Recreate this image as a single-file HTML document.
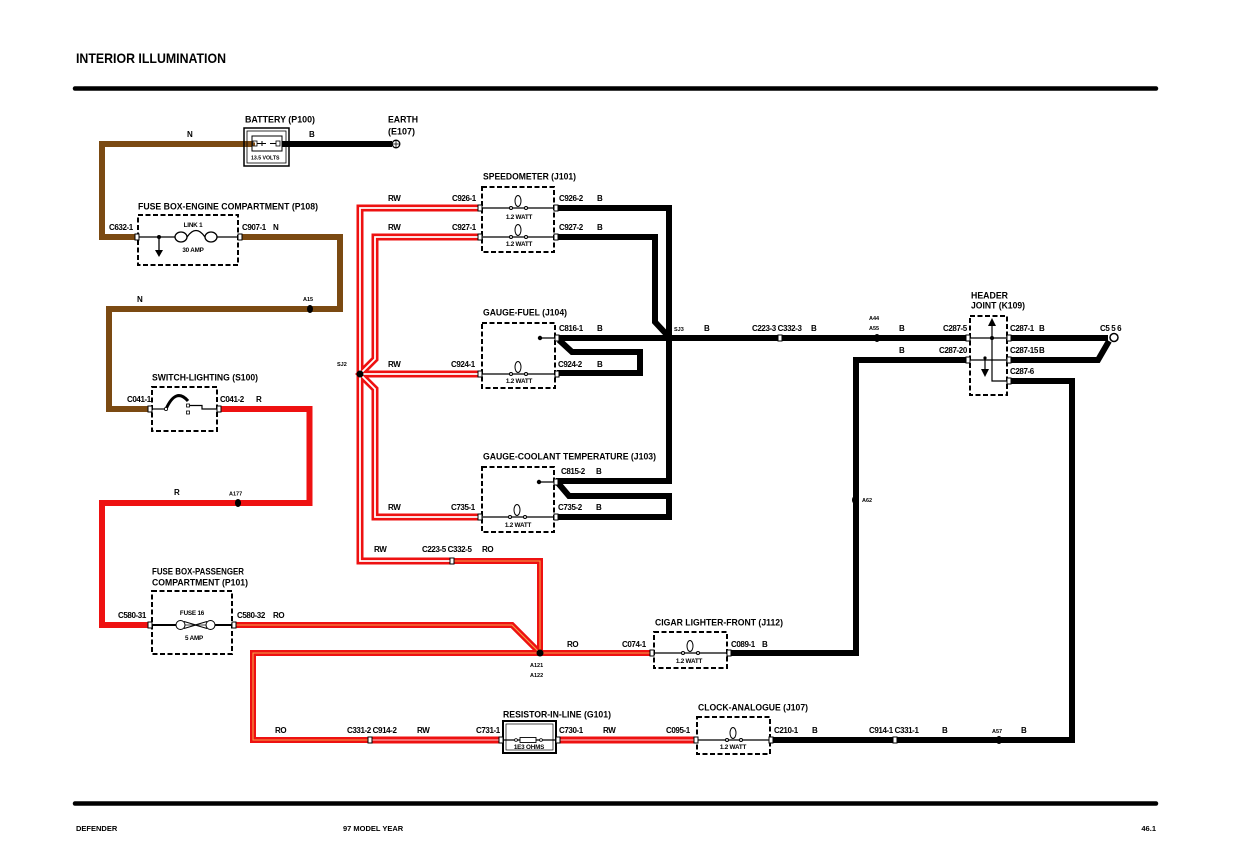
<!DOCTYPE html>
<html><head><meta charset="utf-8"><style>
html,body{margin:0;padding:0;background:#fff;}
svg{display:block;}
text{font-family:"Liberation Sans",Arial,sans-serif;font-weight:bold;fill:#000;}
.s{font-size:8px;letter-spacing:-0.4px;}
.t{font-size:9.5px;}
.xs{font-size:5.5px;}
.w{font-size:6.3px;letter-spacing:-0.2px;}
.f{font-size:7.5px;}
</style></head><body>
<svg width="1249" height="868" viewBox="0 0 1249 868" xmlns="http://www.w3.org/2000/svg">
<rect width="1249" height="868" fill="#fff"/>
<!-- header / footer -->
<text x="76" y="63" style="font-size:14px" textLength="150" lengthAdjust="spacingAndGlyphs">INTERIOR ILLUMINATION</text>
<line x1="75" y1="88.5" x2="1156" y2="88.5" stroke="#000" stroke-width="4.5" stroke-linecap="round"/>
<line x1="75" y1="803.5" x2="1156" y2="803.5" stroke="#000" stroke-width="4.5" stroke-linecap="round"/>
<text class="f" x="76" y="831">DEFENDER</text>
<text class="f" x="343" y="831">97 MODEL YEAR</text>
<text class="f" x="1156" y="831" text-anchor="end">46.1</text>

<!-- BROWN wires -->
<g fill="none" stroke="#7b4a12" stroke-width="6" stroke-linejoin="miter">
<path d="M255 144 H102 V237 H136"/>
<path d="M241 237 H340 V309 H109 V409 H149"/>
</g>
<!-- RED R wire -->
<g fill="none" stroke="#ee1111" stroke-width="6">
<path d="M220 409 H309.5 V503 H102 V625 H149"/>
</g>
<!-- RO wires -->
<g fill="none" stroke-linejoin="miter">
<path d="M452 561 H540 V653 M235 625 H512 L540 653 M651 653 H253 V740 H370" stroke="#ee1111" stroke-width="6"/>
<path d="M452 561 H540 V653 M235 625 H512 L540 653 M651 653 H253 V740 H370" stroke="#f7a24a" stroke-width="1.1"/>
</g>
<!-- RW wires -->
<g fill="none">
<g stroke="#ee1111" stroke-width="7">
<path d="M479 208 H360 V561 H452"/>
<path d="M479 237 H375 V359 L360 374 L375 389 V517 H479"/>
<path d="M360 374 H479"/>
<path d="M370 740 H502 M557 740 H696"/>
</g>
<g stroke="#fff" stroke-width="1.8">
<path d="M479 208 H360 V561 H452"/>
<path d="M479 237 H375 V359 L360 374 L375 389 V517 H479"/>
<path d="M360 374 H479"/>
</g>
<g stroke="#ffd0d0" stroke-width="1">
<path d="M370 740 H502 M557 740 H696"/>
</g>
</g>
<!-- BLACK wires -->
<g fill="none" stroke="#000" stroke-width="6" stroke-linejoin="miter">
<path d="M282 144 H392"/>
<path d="M556 208 H669 V481 H556"/>
<path d="M558 483 L569 496 H669 V517 H556"/>
<path d="M556 237 H655 V322 L669 337"/>
<path d="M557 338 H968"/>
<path d="M559 340 L572 352 H640 V373 H557"/>
<path d="M1009 338 H1108"/>
<path d="M1009 360 H1098 L1109 341"/>
<path d="M968 360 H856 V653 H728"/>
<path d="M1009 381 H1072 V740 H771"/>
</g>

<!-- dots -->
<g fill="#000">
<ellipse cx="310" cy="309" rx="3" ry="4"/>
<ellipse cx="238" cy="503" rx="3" ry="4"/>
<circle cx="360" cy="374" r="3.5"/>
<circle cx="669" cy="337.5" r="2.5"/>
<ellipse cx="877" cy="338" rx="3" ry="4"/>
<ellipse cx="855" cy="500" rx="3" ry="4"/>
<circle cx="540" cy="653" r="3.5"/>
<ellipse cx="999" cy="740" rx="3" ry="4"/>
</g>

<!-- BATTERY -->
<rect x="244" y="128" width="45" height="38" fill="none" stroke="#000" stroke-width="1.5"/>
<rect x="247" y="131" width="39" height="32" fill="none" stroke="#000" stroke-width="0.8"/>
<rect x="252" y="136" width="30" height="15" fill="#fff" stroke="#000" stroke-width="1"/>
<rect x="253" y="141" width="4" height="5" fill="#fff" stroke="#000" stroke-width="0.8"/>
<path d="M257 143.5 H266 M262 141 V146 M270 143.5 H276" stroke="#000" stroke-width="1"/>
<rect x="276" y="141" width="4" height="5" fill="#fff" stroke="#000" stroke-width="0.8"/>
<text x="251" y="159.5" style="font-size:5.2px">13.5 VOLTS</text>
<path d="M255 144 H253" stroke="#7b4a12" stroke-width="3"/>
<!-- earth -->
<circle cx="396" cy="144" r="3.8" fill="#fff" stroke="#000" stroke-width="1.3"/>
<path d="M392 144 H400 M396 140 V148" stroke="#000" stroke-width="0.8"/>

<!-- FUSE BOX ENGINE -->
<rect x="138" y="215" width="100" height="50" fill="none" stroke="#000" stroke-width="2" stroke-dasharray="5 2.5"/>
<path d="M138 237 H175 M217 237 H238" stroke="#000" stroke-width="1.3"/>
<circle cx="159" cy="237" r="2" fill="#000"/>
<path d="M159 237 V251" stroke="#000" stroke-width="1.3"/>
<path d="M155 250 H163 L159 257 Z" fill="#000"/>
<ellipse cx="181" cy="237" rx="6" ry="5" fill="none" stroke="#000" stroke-width="1.3"/>
<path d="M187 237 Q196 224 205 237" fill="none" stroke="#000" stroke-width="1.3"/>
<ellipse cx="211" cy="237" rx="6" ry="5" fill="none" stroke="#000" stroke-width="1.3"/>

<!-- SWITCH -->
<rect x="152" y="387" width="65" height="44" fill="none" stroke="#000" stroke-width="2" stroke-dasharray="5 2.5"/>
<path d="M152 409 H166" stroke="#000" stroke-width="1.2"/>
<path d="M166 409 Q176 387 188 401" fill="none" stroke="#000" stroke-width="3"/>
<circle cx="166" cy="409" r="1.6" fill="#fff" stroke="#000" stroke-width="0.8"/>
<rect x="186.5" y="404" width="3" height="3" fill="#fff" stroke="#000" stroke-width="0.8"/>
<rect x="186.5" y="411" width="3" height="3" fill="#fff" stroke="#000" stroke-width="0.8"/>
<path d="M189.5 405.5 H202 V409 H217" fill="none" stroke="#000" stroke-width="1.2"/>

<!-- FUSE BOX PASSENGER -->
<rect x="152" y="591" width="80" height="63" fill="none" stroke="#000" stroke-width="2" stroke-dasharray="5 2.5"/>
<path d="M152 625 H176 M215 625 H232" stroke="#000" stroke-width="2"/>
<path d="M185 625 H206" stroke="#000" stroke-width="0.8"/>
<circle cx="180.5" cy="625" r="4.5" fill="#fff" stroke="#000" stroke-width="1"/>
<path d="M184 621.5 L196 625 L184 628.5" fill="none" stroke="#000" stroke-width="1"/>
<circle cx="210.5" cy="625" r="4.5" fill="#fff" stroke="#000" stroke-width="1"/>
<path d="M207 621.5 L195 625 L207 628.5" fill="none" stroke="#000" stroke-width="1"/>

<!-- instrument boxes -->
<g fill="none" stroke="#000" stroke-width="2" stroke-dasharray="5 2.5">
<rect x="482" y="187" width="72" height="65"/>
<rect x="482" y="323" width="73" height="65"/>
<rect x="482" y="467" width="72" height="65"/>
<rect x="654" y="632" width="73" height="36"/>
<rect x="697" y="717" width="73" height="37"/>
<rect x="970" y="316" width="37" height="79"/>
</g>
<!-- inner lines -->
<g stroke="#000" stroke-width="1.2" fill="none">
<path d="M482 208 H554 M482 237 H554 M482 374 H555 M482 517 H554 M654 653 H727 M697 740 H770"/>
<path d="M540 338 H555 M539 482 H554"/>
<path d="M970 338 H1007 M970 360 H1007 M992 326 V381 H1007 M985 358 V370"/>
</g>
<circle cx="540" cy="338" r="2.2" fill="#000"/>
<circle cx="539" cy="482" r="2.2" fill="#000"/>
<circle cx="992" cy="338" r="2" fill="#000"/>
<circle cx="985" cy="358" r="1.6" fill="#000"/>
<path d="M992 318 L988 326 H996 Z" fill="#000"/>
<path d="M981 369 H989 L985 377 Z" fill="#000"/>

<!-- bulbs -->
<g fill="#fff" stroke="#000" stroke-width="1">
<ellipse cx="518" cy="201" rx="3" ry="5.5"/><circle cx="511" cy="208" r="1.5"/><circle cx="526" cy="208" r="1.5"/>
<ellipse cx="518" cy="230" rx="3" ry="5.5"/><circle cx="511" cy="237" r="1.5"/><circle cx="526" cy="237" r="1.5"/>
<ellipse cx="518" cy="367" rx="3" ry="5.5"/><circle cx="511" cy="374" r="1.5"/><circle cx="526" cy="374" r="1.5"/>
<ellipse cx="517" cy="510" rx="3" ry="5.5"/><circle cx="510" cy="517" r="1.5"/><circle cx="525" cy="517" r="1.5"/>
<ellipse cx="690" cy="646" rx="3" ry="5.5"/><circle cx="683" cy="653" r="1.5"/><circle cx="698" cy="653" r="1.5"/>
<ellipse cx="733" cy="733" rx="3" ry="5.5"/><circle cx="727" cy="740" r="1.5"/><circle cx="741" cy="740" r="1.5"/>
</g>
<g class="w" text-anchor="middle">
<text x="519" y="219">1.2 WATT</text>
<text x="519" y="246">1.2 WATT</text>
<text x="519" y="383">1.2 WATT</text>
<text x="518" y="527">1.2 WATT</text>
<text x="689" y="663">1.2 WATT</text>
<text x="733" y="749">1.2 WATT</text>
</g>

<!-- resistor -->
<rect x="503" y="721" width="53" height="32" fill="#fff" stroke="#000" stroke-width="2"/>
<rect x="506" y="724" width="47" height="26" fill="none" stroke="#000" stroke-width="0.7"/>
<path d="M503 740 H556" stroke="#000" stroke-width="1.2"/>
<rect x="520" y="737.5" width="16" height="5" fill="#fff" stroke="#000" stroke-width="0.9"/>
<circle cx="516" cy="740" r="1.4" fill="#fff" stroke="#000" stroke-width="0.8"/>
<circle cx="541" cy="740" r="1.4" fill="#fff" stroke="#000" stroke-width="0.8"/>
<text class="w" x="529" y="749" text-anchor="middle">1E3 OHMS</text>

<!-- C556 ring -->
<circle cx="1114" cy="337.5" r="4" fill="#fff" stroke="#000" stroke-width="1.5"/>

<!-- connectors -->
<g fill="#fff" stroke="#000" stroke-width="1">
<rect x="135" y="234" width="4" height="6"/><rect x="238" y="234" width="4" height="6"/>
<rect x="148" y="406" width="4" height="6"/><rect x="217" y="406" width="4" height="6"/>
<rect x="148" y="622" width="4" height="6"/><rect x="232" y="622" width="4" height="6"/>
<rect x="478" y="205" width="4" height="6"/><rect x="554" y="205" width="4" height="6"/>
<rect x="478" y="234" width="4" height="6"/><rect x="554" y="234" width="4" height="6"/>
<rect x="555" y="335" width="4" height="6"/>
<rect x="478" y="371" width="4" height="6"/><rect x="555" y="371" width="4" height="6"/>
<rect x="554" y="479" width="4" height="6"/>
<rect x="478" y="514" width="4" height="6"/><rect x="554" y="514" width="4" height="6"/>
<rect x="450" y="558" width="4" height="6"/>
<rect x="778" y="335" width="4" height="6"/>
<rect x="966" y="335" width="4" height="6"/><rect x="1007" y="335" width="4" height="6"/>
<rect x="966" y="357" width="4" height="6"/><rect x="1007" y="357" width="4" height="6"/>
<rect x="1007" y="378" width="4" height="6"/>
<rect x="650" y="650" width="4" height="6"/><rect x="727" y="650" width="4" height="6"/>
<rect x="368" y="737" width="4" height="6"/>
<rect x="499" y="737" width="4" height="6"/><rect x="556" y="737" width="4" height="6"/>
<rect x="694" y="737" width="4" height="6"/><rect x="769" y="737" width="4" height="6"/>
<rect x="893" y="737" width="4" height="6"/>
</g>

<!-- component titles -->
<g class="t">
<text x="245" y="122.5" textLength="70" lengthAdjust="spacingAndGlyphs">BATTERY (P100)</text>
<text x="388" y="122.5" textLength="30" lengthAdjust="spacingAndGlyphs">EARTH</text>
<text x="388" y="134.5" textLength="27" lengthAdjust="spacingAndGlyphs">(E107)</text>
<text x="138" y="209.5" textLength="180" lengthAdjust="spacingAndGlyphs">FUSE BOX-ENGINE COMPARTMENT (P108)</text>
<text x="483" y="179.5" textLength="93" lengthAdjust="spacingAndGlyphs">SPEEDOMETER (J101)</text>
<text x="483" y="315.5" textLength="84" lengthAdjust="spacingAndGlyphs">GAUGE-FUEL (J104)</text>
<text x="152" y="380.5" textLength="106" lengthAdjust="spacingAndGlyphs">SWITCH-LIGHTING (S100)</text>
<text x="483" y="459.5" textLength="173" lengthAdjust="spacingAndGlyphs">GAUGE-COOLANT TEMPERATURE (J103)</text>
<text x="152" y="574.5" textLength="92" lengthAdjust="spacingAndGlyphs">FUSE BOX-PASSENGER</text>
<text x="152" y="585.5" textLength="96" lengthAdjust="spacingAndGlyphs">COMPARTMENT (P101)</text>
<text x="655" y="625.5" textLength="128" lengthAdjust="spacingAndGlyphs">CIGAR LIGHTER-FRONT (J112)</text>
<text x="503" y="717.5" textLength="108" lengthAdjust="spacingAndGlyphs">RESISTOR-IN-LINE (G101)</text>
<text x="698" y="710.5" textLength="110" lengthAdjust="spacingAndGlyphs">CLOCK-ANALOGUE (J107)</text>
<text x="971" y="298.5" textLength="37" lengthAdjust="spacingAndGlyphs">HEADER</text>
<text x="971" y="308.5" textLength="54" lengthAdjust="spacingAndGlyphs">JOINT (K109)</text>
</g>

<!-- small labels -->
<g class="s">
<text x="187" y="137">N</text><text x="309" y="137">B</text>
<text x="109" y="230">C632-1</text><text x="242" y="230">C907-1</text><text x="273" y="230">N</text>
<text x="137" y="302">N</text>
<text x="127" y="402">C041-1</text><text x="220" y="402">C041-2</text><text x="256" y="402">R</text>
<text x="174" y="495">R</text>
<text x="118" y="618">C580-31</text><text x="237" y="618">C580-32</text><text x="273" y="618">RO</text>
<text x="388" y="201">RW</text><text x="452" y="201">C926-1</text><text x="559" y="201">C926-2</text><text x="597" y="201">B</text>
<text x="388" y="230">RW</text><text x="452" y="230">C927-1</text><text x="559" y="230">C927-2</text><text x="597" y="230">B</text>
<text x="559" y="331">C816-1</text><text x="597" y="331">B</text><text x="704" y="331">B</text>
<text x="752" y="331">C223-3 C332-3</text><text x="811" y="331">B</text>
<text x="899" y="331">B</text><text x="943" y="331">C287-5</text><text x="1010" y="331">C287-1</text><text x="1039" y="331">B</text>
<text x="1100" y="331">C5 5 6</text>
<text x="388" y="367">RW</text><text x="451" y="367">C924-1</text><text x="558" y="367">C924-2</text><text x="597" y="367">B</text>
<text x="899" y="353">B</text><text x="939" y="353">C287-20</text><text x="1010" y="353">C287-15</text><text x="1039" y="353">B</text>
<text x="1010" y="374">C287-6</text>
<text x="561" y="474">C815-2</text><text x="596" y="474">B</text>
<text x="388" y="510">RW</text><text x="451" y="510">C735-1</text><text x="558" y="510">C735-2</text><text x="596" y="510">B</text>
<text x="374" y="552">RW</text><text x="422" y="552">C223-5 C332-5</text><text x="482" y="552">RO</text>
<text x="567" y="647">RO</text><text x="622" y="647">C074-1</text><text x="731" y="647">C089-1</text><text x="762" y="647">B</text>
<text x="275" y="733">RO</text><text x="347" y="733">C331-2 C914-2</text><text x="417" y="733">RW</text>
<text x="476" y="733">C731-1</text><text x="559" y="733">C730-1</text><text x="603" y="733">RW</text>
<text x="666" y="733">C095-1</text><text x="774" y="733">C210-1</text><text x="812" y="733">B</text>
<text x="869" y="733">C914-1 C331-1</text><text x="942" y="733">B</text><text x="1021" y="733">B</text>
</g>
<g class="w" text-anchor="middle">
<text x="193" y="227">LINK 1</text>
<text x="193" y="252">30 AMP</text>
<text x="192" y="615">FUSE 16</text>
<text x="194" y="640">5 AMP</text>
</g>
<g class="xs">
<text x="303" y="301">A15</text>
<text x="229" y="495.5">A177</text>
<text x="337" y="366">SJ2</text>
<text x="674" y="331">SJ3</text>
<text x="869" y="320">A44</text>
<text x="869" y="330">A55</text>
<text x="862" y="502">A62</text>
<text x="530" y="667">A121</text>
<text x="530" y="677">A122</text>
<text x="992" y="733">A57</text>
</g>
</svg>
</body></html>
